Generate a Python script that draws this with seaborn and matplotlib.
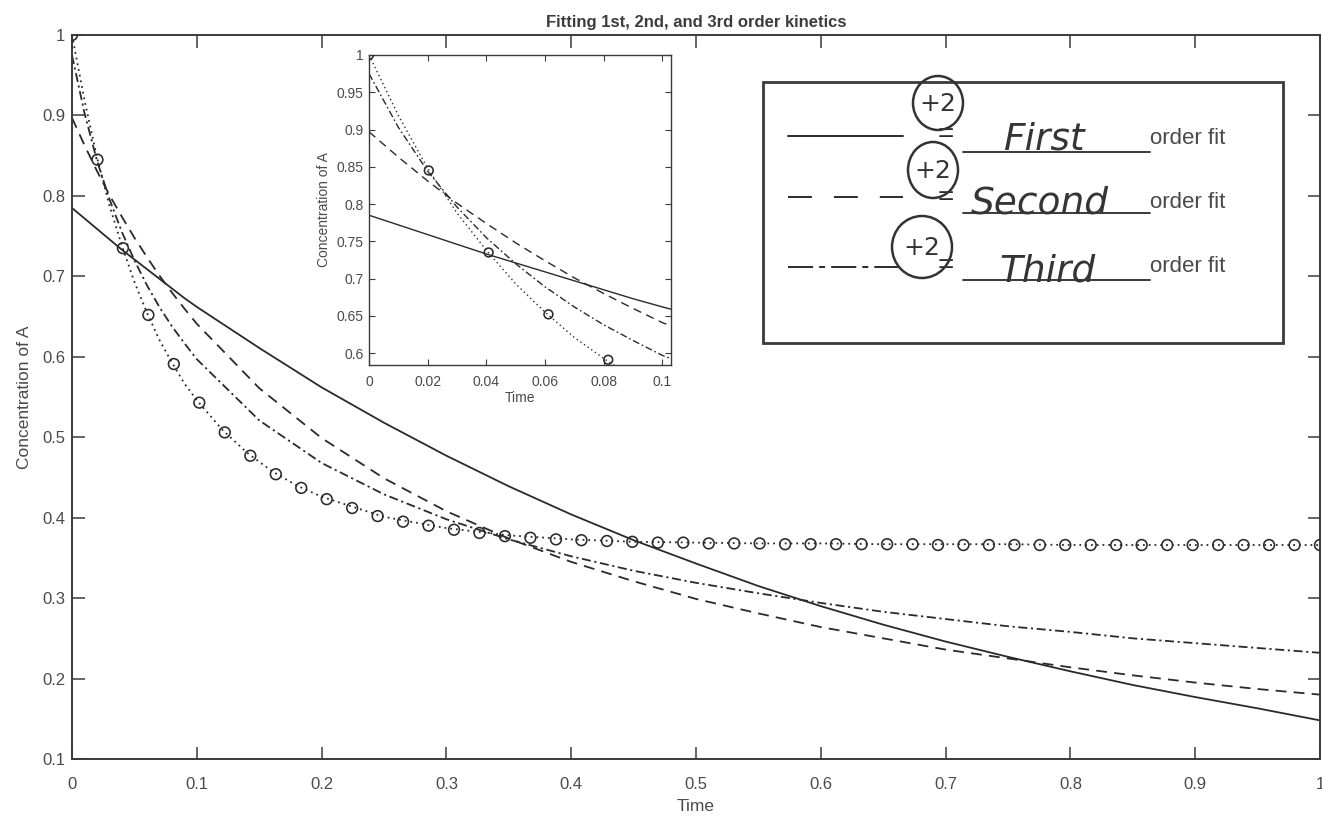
import numpy as np
import pandas as pd
import matplotlib
matplotlib.use("Agg")
import matplotlib.pyplot as plt
import seaborn as sns
from matplotlib.patches import Rectangle, Ellipse

# ---------------- data ----------------
data_t = [0.0, 0.0204, 0.0408, 0.0612, 0.0816, 0.1020, 0.1224, 0.1429, 0.1633, 0.1837,
          0.2041, 0.2245, 0.2449, 0.2653, 0.2857, 0.3061, 0.3265, 0.3469, 0.3673, 0.3878,
          0.4082, 0.4286, 0.4490, 0.4694, 0.4898, 0.5102, 0.5306, 0.5510, 0.5714, 0.5918,
          0.6122, 0.6327, 0.6531, 0.6735, 0.6939, 0.7143, 0.7347, 0.7551, 0.7755, 0.7959,
          0.8163, 0.8367, 0.8571, 0.8776, 0.8980, 0.9184, 0.9388, 0.9592, 0.9796, 1.0]
data_conc = [1.000, 0.845, 0.735, 0.652, 0.591, 0.543, 0.506, 0.477, 0.454, 0.437,
             0.423, 0.412, 0.402, 0.395, 0.390, 0.385, 0.381, 0.377, 0.375, 0.373,
             0.372, 0.371, 0.370, 0.369, 0.369, 0.368, 0.368, 0.368, 0.367, 0.367,
             0.367, 0.367, 0.367, 0.367, 0.366, 0.366, 0.366, 0.366, 0.366, 0.366,
             0.366, 0.366, 0.366, 0.366, 0.366, 0.366, 0.366, 0.366, 0.366, 0.366]

model_t = [0.0, 0.01, 0.02, 0.03, 0.04, 0.05, 0.06, 0.07, 0.08, 0.09, 0.10,
           0.12, 0.14, 0.16, 0.18,
           0.20, 0.25, 0.30, 0.35, 0.40, 0.45, 0.50, 0.55, 0.60, 0.65, 0.70,
           0.75, 0.80, 0.85, 0.90, 0.95, 1.00]
model_conc = [1.000, 0.919, 0.848, 0.788, 0.738, 0.693, 0.655, 0.621, 0.593, 0.567, 0.546,
              0.510, 0.481, 0.458, 0.440,
              0.426, 0.401, 0.387, 0.378, 0.373, 0.370, 0.369, 0.368, 0.368, 0.367, 0.367,
              0.367, 0.366, 0.366, 0.366, 0.366, 0.366]

fit_t = [0.0, 0.01, 0.02, 0.03, 0.04, 0.05, 0.06, 0.07, 0.08, 0.09, 0.10,
         0.15, 0.20, 0.25, 0.30, 0.35, 0.40, 0.45, 0.50, 0.55, 0.60, 0.65, 0.70,
         0.75, 0.80, 0.85, 0.90, 0.95, 1.00]
first_fit = [0.785, 0.772, 0.759, 0.746, 0.733, 0.721, 0.709, 0.697, 0.685, 0.673, 0.662,
             0.611, 0.562, 0.518, 0.477, 0.439, 0.404, 0.372, 0.343, 0.315, 0.290, 0.267, 0.246,
             0.227, 0.209, 0.192, 0.177, 0.163, 0.148]
second_fit = [0.897, 0.863, 0.831, 0.801, 0.774, 0.748, 0.724, 0.701, 0.680, 0.660, 0.641,
              0.561, 0.499, 0.449, 0.408, 0.374, 0.345, 0.321, 0.299, 0.281, 0.264, 0.250, 0.236,
              0.225, 0.214, 0.204, 0.195, 0.187, 0.180]
third_fit = [0.975, 0.903, 0.844, 0.796, 0.755, 0.720, 0.689, 0.662, 0.638, 0.617, 0.597,
             0.521, 0.468, 0.429, 0.398, 0.373, 0.352, 0.334, 0.319, 0.306, 0.294, 0.283, 0.274,
             0.265, 0.258, 0.250, 0.244, 0.238, 0.232]

main_xticks = [0, 0.1, 0.2, 0.3, 0.4, 0.5, 0.6, 0.7, 0.8, 0.9, 1.0]
main_xlabels = ["0", "0.1", "0.2", "0.3", "0.4", "0.5", "0.6", "0.7", "0.8", "0.9", "1"]
main_yticks = [0.1, 0.2, 0.3, 0.4, 0.5, 0.6, 0.7, 0.8, 0.9, 1.0]
main_ylabels = ["0.1", "0.2", "0.3", "0.4", "0.5", "0.6", "0.7", "0.8", "0.9", "1"]
inset_xticks = [0, 0.02, 0.04, 0.06, 0.08, 0.1]
inset_xlabels = ["0", "0.02", "0.04", "0.06", "0.08", "0.1"]
inset_yticks = [0.6, 0.65, 0.7, 0.75, 0.8, 0.85, 0.9, 0.95, 1.0]
inset_ylabels = ["0.6", "0.65", "0.7", "0.75", "0.8", "0.85", "0.9", "0.95", "1"]

legend_words = ["First", "Second", "Third"]

# ---------------- style ----------------
sns.set_style("ticks")
plt.rcParams['font.family'] = ['Liberation Sans', 'DejaVu Sans']
TXT = '#4a4a4a'
LC = '#2a2a2a'
FR = '#3a3a3a'

W, H = 1322, 816
fig = plt.figure(figsize=(W / 100, H / 100), dpi=100)
fig.patch.set_facecolor('white')

ax = fig.add_axes([72 / W, 1 - 759 / H, (1320 - 72) / W, (759 - 35) / H])
axi = fig.add_axes([369 / W, 1 - 365 / H, (671 - 369) / W, (365 - 55) / H])

fits = pd.DataFrame({"t": fit_t, "first": first_fit, "second": second_fit, "third": third_fit})
model = pd.DataFrame({"t": model_t, "c": model_conc})
data = pd.DataFrame({"t": data_t, "c": data_conc})

DASH = (0, (6, 4))
DASHDOT = (0, (5, 2, 1.2, 2))
DOT = (0, (1, 2.2))


def draw(a, lw, ms):
    sns.lineplot(data=fits, x="t", y="first", ax=a, color=LC, lw=lw, linestyle='-')
    sns.lineplot(data=fits, x="t", y="second", ax=a, color=LC, lw=lw, linestyle=DASH)
    sns.lineplot(data=fits, x="t", y="third", ax=a, color=LC, lw=lw, linestyle=DASHDOT)
    sns.lineplot(data=model, x="t", y="c", ax=a, color=LC, lw=lw, linestyle=DOT)
    sns.scatterplot(data=data, x="t", y="c", ax=a, s=ms, facecolor='none',
                    edgecolor=LC, linewidth=1.15, marker='o', zorder=5, clip_on=True)


draw(ax, 1.3, 60)
ax.set_xlim(0, 1)
ax.set_ylim(0.1, 1.0)
ax.set_xticks(main_xticks)
ax.set_xticklabels(main_xlabels)
ax.set_yticks(main_yticks)
ax.set_yticklabels(main_ylabels)
ax.tick_params(direction='in', top=True, right=True, length=9, width=1.1,
               colors=FR, labelcolor=TXT, labelsize=12)
ax.tick_params(axis='x', pad=13)
ax.tick_params(axis='y', pad=5)
for s in ax.spines.values():
    s.set_linewidth(1.4)
    s.set_color(FR)
    s.set_visible(True)
ax.set_xlabel("Time", fontsize=12.5, color=TXT, labelpad=5)
ax.set_ylabel("Concentration of A", fontsize=12.5, color=TXT, labelpad=7)
ax.set_title("Fitting 1st, 2nd, and 3rd order kinetics", fontsize=12, fontweight='bold',
             color='#3c3c3c', pad=6)

draw(axi, 1.0, 40)
axi.set_xlim(0, 0.103)
axi.set_ylim(0.584, 1.0)
axi.set_xticks(inset_xticks)
axi.set_xticklabels(inset_xlabels)
axi.set_yticks(inset_yticks)
axi.set_yticklabels(inset_ylabels)
axi.tick_params(direction='in', top=True, right=True, length=4, width=0.8,
                colors=FR, labelcolor=TXT, labelsize=10)
axi.tick_params(axis='x', pad=7)
axi.tick_params(axis='y', pad=4)
for s in axi.spines.values():
    s.set_linewidth(1.0)
    s.set_color(FR)
    s.set_visible(True)
axi.set_xlabel("Time", fontsize=10, color=TXT, labelpad=2)
axi.set_ylabel("Concentration of A", fontsize=10, color=TXT, labelpad=4)
axi.set_facecolor('white')

# ---------------- legend box (overlay in pixel coordinates) ----------------
axo = fig.add_axes([0, 0, 1, 1], zorder=10)
axo.set_xlim(0, W)
axo.set_ylim(H, 0)
axo.axis('off')

axo.add_patch(Rectangle((763, 82), 1283 - 763, 343 - 82, facecolor='white',
                        edgecolor=FR, linewidth=2.0, zorder=1))

row_y = [136, 197, 267]
styles = ['-', (0, (12.3, 11.3)), (0, (12.9, 3.1, 3.1, 3.1))]
for y, ls in zip(row_y, styles):
    axo.plot([788, 903], [y, y], color=LC, lw=1.4, linestyle=ls, zorder=2)

eq_y = [135, 198, 266]
for y in eq_y:
    axo.text(946, y, "=", fontsize=20, color=LC, ha='center', va='center', zorder=3)

under_y = [152, 213, 280]
for y in under_y:
    axo.plot([963, 1150], [y, y], color=LC, lw=1.3, zorder=2)

word_x = [1045, 1040, 1047]
word_y = [149, 214, 281]
for w, x, y in zip(legend_words, word_x, word_y):
    axo.text(x, y, w, fontsize=27, color='#353535', ha='center', va='baseline',
             family='DejaVu Sans', style='oblique', zorder=3)

for y in [138, 202, 267]:
    axo.text(1150, y, "order fit", fontsize=16, color=TXT, ha='left', va='center', zorder=3)

circ = [(938, 103, 50, 54), (933, 170, 50, 56), (922, 247, 60, 62)]
for cx, cy, cw, ch in circ:
    axo.add_patch(Ellipse((cx, cy), cw, ch, facecolor='none', edgecolor='#333333',
                          linewidth=1.8, zorder=4))
    axo.text(cx, cy + 1, "+2", fontsize=18, color='#333333', ha='center', va='center',
             family='DejaVu Sans', zorder=4)

fig.savefig("out.png", dpi=100)
